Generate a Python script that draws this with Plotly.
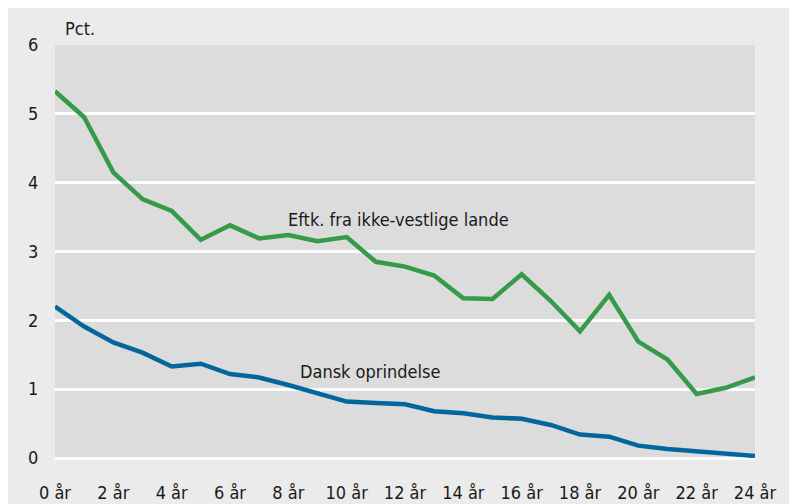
import plotly.graph_objects as go

years = list(range(25))
tick_vals = list(range(0, 25, 2))
tick_text = [f"{v} år" for v in tick_vals]

ikke_vestlige = [5.33, 4.95, 4.15, 3.76, 3.59, 3.17, 3.38, 3.19, 3.24, 3.15, 3.21, 2.85,
                 2.78, 2.65, 2.32, 2.31, 2.67, 2.28, 1.84, 2.37, 1.69, 1.43, 0.93, 1.02, 1.17]
dansk = [2.20, 1.91, 1.68, 1.53, 1.33, 1.37, 1.22, 1.17, 1.06, 0.94, 0.82, 0.80,
         0.78, 0.68, 0.65, 0.59, 0.57, 0.48, 0.34, 0.31, 0.18, 0.13, 0.10, 0.07, 0.03]

FONT = "Liberation Sans Narrow, DejaVu Sans Condensed, Roboto, sans-serif"
TXT = "#1a1a1a"

fig = go.Figure()
fig.add_trace(go.Scatter(x=years, y=dansk, mode="lines",
                         line=dict(color="#00669b", width=4.5), hoverinfo="skip"))
fig.add_trace(go.Scatter(x=years, y=ikke_vestlige, mode="lines",
                         line=dict(color="#369a48", width=4.5), hoverinfo="skip"))

fig.update_layout(
    width=797, height=504,
    margin=dict(l=47, r=50, t=37, b=54),
    paper_bgcolor="#ebebeb",
    plot_bgcolor="#dcdcdc",
    showlegend=False,
    font=dict(family=FONT, size=18, color=TXT),
    xaxis=dict(range=[0, 24], tickvals=tick_vals, ticktext=tick_text,
               showgrid=False, zeroline=False, showline=False, automargin=False,
               ticks="outside", ticklen=18, tickcolor="rgba(0,0,0,0)",
               tickfont=dict(family=FONT, size=18, color=TXT)),
    yaxis=dict(range=[0, 6], tickvals=list(range(7)), automargin=False,
               showgrid=True, gridcolor="white", gridwidth=2.5,
               zeroline=True, zerolinecolor="white", zerolinewidth=2.5,
               showline=False, ticks="outside", ticklen=12, tickcolor="rgba(0,0,0,0)",
               tickfont=dict(family=FONT, size=18, color=TXT)),
    annotations=[
        dict(text="Pct.", xref="paper", yref="paper", x=8 / 700, y=(450 - 20) / 413,
             xanchor="left", yanchor="middle", showarrow=False,
             font=dict(family=FONT, size=18, color=TXT)),
        dict(text="Eftk. fra ikke-vestlige lande", xref="x", yref="y", x=7.92, y=3.46,
             xanchor="left", yanchor="middle", showarrow=False,
             font=dict(family=FONT, size=18, color=TXT)),
        dict(text="Dansk oprindelse", xref="x", yref="y", x=8.33, y=1.25,
             xanchor="left", yanchor="middle", showarrow=False,
             font=dict(family=FONT, size=18, color=TXT)),
    ],
)

fig.write_html("out.html")
